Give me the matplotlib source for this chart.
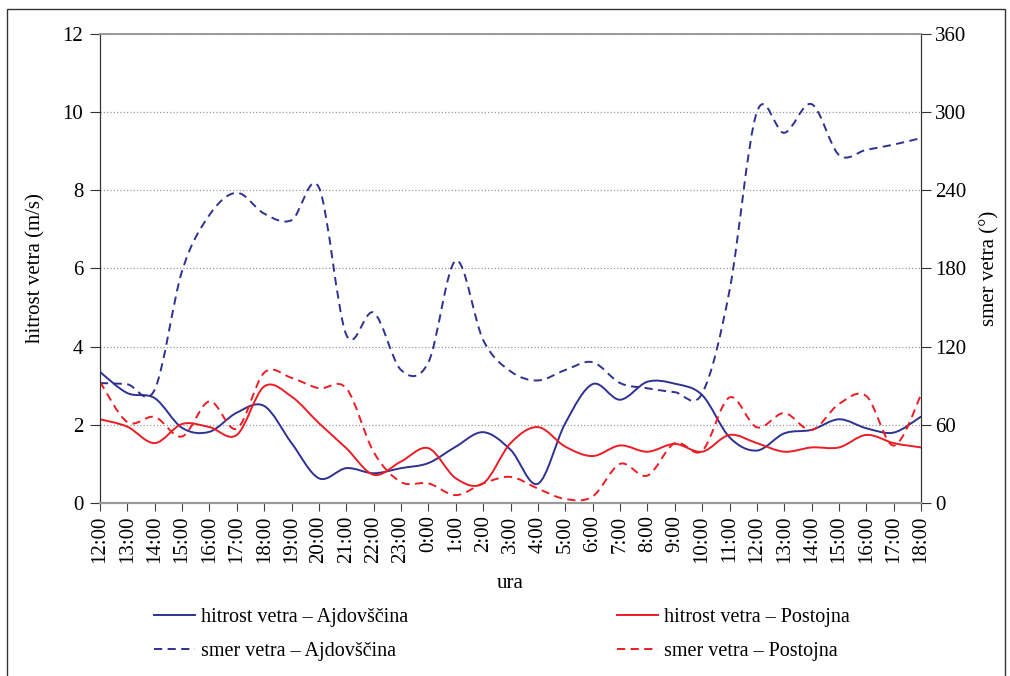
import matplotlib
matplotlib.use('Agg')
import matplotlib.pyplot as plt
from matplotlib.path import Path
from matplotlib.patches import PathPatch, Rectangle
from matplotlib.lines import Line2D
import numpy as np

plt.rcParams['font.family'] = ['Liberation Serif', 'DejaVu Serif']

# hourly labels, 12:00 on day one to 18:00 on day two
hours = [f'{h % 24}:00' for h in range(12, 43)]

# wind speed (m/s)
speed_ajd = [3.35, 2.81, 2.68, 1.92, 1.82, 2.31, 2.48, 1.53, 0.63, 0.89, 0.76,
             0.89, 1.02, 1.44, 1.81, 1.36, 0.49, 2.04, 3.04, 2.64, 3.10, 3.05,
             2.76, 1.68, 1.34, 1.78, 1.87, 2.14, 1.91, 1.80, 2.21]
speed_pos = [2.14, 1.95, 1.53, 2.02, 1.94, 1.74, 2.98, 2.72, 2.04, 1.40, 0.72,
             1.06, 1.40, 0.63, 0.50, 1.53, 1.94, 1.44, 1.20, 1.47, 1.31, 1.51,
             1.31, 1.74, 1.53, 1.31, 1.42, 1.42, 1.74, 1.53, 1.42]

# wind direction (degrees)
dir_ajd = [92, 91, 87, 178, 221, 238, 222, 217, 242, 129, 146,
           102, 108, 186, 125, 101, 94, 102, 108, 92, 88, 85,
           84, 163, 300, 284, 306, 267, 271, 275, 280]
dir_pos = [93, 62, 66, 51, 78, 57, 100, 96, 88, 88, 39,
           16, 15, 6, 15, 20, 11, 3, 5, 30, 21, 46,
           40, 81, 58, 69, 56, 76, 82, 44, 83]

BLUE = '#2e3192'
RED = '#ed1c24'


def smooth_path(xs, ys):
    # Bezier path through the points, like a spreadsheet "smoothed line"
    pts = np.column_stack([np.asarray(xs, float), np.asarray(ys, float)])
    n = len(pts)
    verts = [pts[0]]
    codes = [Path.MOVETO]
    for i in range(n - 1):
        p0 = pts[max(i - 1, 0)]
        p1 = pts[i]
        p2 = pts[i + 1]
        p3 = pts[min(i + 2, n - 1)]
        verts += [p1 + (p2 - p0) / 6.0, p2 - (p3 - p1) / 6.0, p2]
        codes += [Path.CURVE4] * 3
    return Path(verts, codes)


fig = plt.figure(figsize=(10.1, 6.76), dpi=100)
ax = fig.add_axes([0.099, 0.256, 0.813, 0.694])
ax2 = ax.twinx()

x = np.arange(len(hours))
dash = (0, (4.2, 2.8))

ax.add_patch(PathPatch(smooth_path(x, speed_ajd), fill=False, edgecolor=BLUE, lw=1.4))
ax.add_patch(PathPatch(smooth_path(x, speed_pos), fill=False, edgecolor=RED, lw=1.4))
ax2.add_patch(PathPatch(smooth_path(x, dir_ajd), fill=False, edgecolor=BLUE, lw=1.4, linestyle=dash))
ax2.add_patch(PathPatch(smooth_path(x, dir_pos), fill=False, edgecolor=RED, lw=1.4, linestyle=dash))

ax.set_xlim(0, len(hours) - 1)
ax.set_ylim(0, 12)
ax2.set_ylim(0, 360)
ax.set_yticks(range(0, 13, 2))
ax2.set_yticks(range(0, 361, 60))
ax.set_xticks(x)
ax.set_xticklabels(hours, rotation=90, fontsize=15)
ax.tick_params(axis='x', length=6, direction='out', color='#444', pad=3)
ax.tick_params(axis='y', labelsize=15, length=7, color='#333', pad=5)
ax2.tick_params(axis='y', labelsize=15, length=7, color='#333', pad=3)

ax.grid(axis='y', linestyle=':', color='#999999', lw=0.9)
ax.set_axisbelow(True)

for a in (ax, ax2):
    a.spines['left'].set_color('#333333')
    a.spines['right'].set_color('#333333')
    a.spines['top'].set_color('#999999')
    a.spines['bottom'].set_color('#999999')
    a.spines['bottom'].set_linewidth(1.5)
    a.spines['top'].set_linewidth(1.2)

ax.set_ylabel('hitrost vetra (m/s)', fontsize=15, labelpad=12)
ax2.set_ylabel('smer vetra (°)', fontsize=15, labelpad=10)
ax.set_xlabel('ura', fontsize=15, labelpad=8)

handles = [
    Line2D([], [], color=BLUE, lw=1.4),
    Line2D([], [], color=BLUE, lw=1.4, linestyle=dash),
    Line2D([], [], color=RED, lw=1.4),
    Line2D([], [], color=RED, lw=1.4, linestyle=dash),
]
labels = ['hitrost vetra – Ajdovščina', 'smer vetra – Ajdovščina',
          'hitrost vetra – Postojna', 'smer vetra – Postojna']
fig.legend(handles, labels, ncol=2, loc='center', bbox_to_anchor=(0.497, 0.0615),
           frameon=False, fontsize=14.5, columnspacing=10.4, handlelength=2.0,
           handletextpad=0.3, labelspacing=0.75)

# frame round the whole figure
fig.patches.append(Rectangle((0.007, -0.01), 0.988, 0.997, transform=fig.transFigure,
                             fill=False, edgecolor='#333333', lw=1.0))

fig.savefig('out.png', dpi=100)
